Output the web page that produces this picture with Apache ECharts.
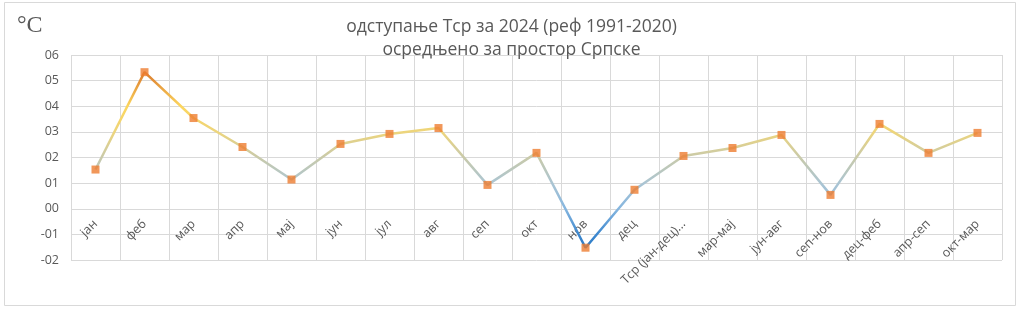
<!DOCTYPE html>
<html><head><meta charset="utf-8">
<script src="https://cdn.jsdelivr.net/npm/echarts@6/dist/echarts.min.js"></script>
<style>html,body{margin:0;padding:0;background:#fff}#c{width:1023px;height:309px}</style>
</head><body><div id="c"></div>
<script>
const categories = ['јан','феб','мар','апр','мај','јун','јул','авг','сеп','окт','нов','дец','Тср (јан-дец)...','мар-мај','јун-авг','сеп-нов','дец-феб','апр-сеп','окт-мар'];
const values = [0.153,0.533,0.354,0.241,0.114,0.253,0.292,0.315,0.093,0.218,-0.152,0.074,0.206,0.237,0.288,0.054,0.331,0.218,0.296];
const yTickLabels = {'-0.2':'-02','-0.1':'-01','0':'00','0.1':'01','0.2':'02','0.3':'03','0.4':'04','0.5':'05','0.6':'06'};
const titleLines = ['одступање Тср за 2024 (реф 1991-2020)','осредњено за простор Српске'];
const unitLabel = '°C';

const chart = echarts.init(document.getElementById('c'));
const font = 'Open Sans';
chart.setOption({
  animation:false,
  backgroundColor:'#fff',
  title:{text:titleLines.join('\n'),left:'center',top:11,
    textStyle:{fontFamily:font,fontSize:17.5,fontWeight:'normal',color:'#595959',lineHeight:23}},
  graphic:[
    {type:'rect',shape:{x:4.5,y:2.5,width:1011,height:303},style:{fill:'none',stroke:'#d9d9d9',lineWidth:1},z:-1},
    {type:'text',left:17,top:14,style:{text:unitLabel,font:'24px "Liberation Serif"',fill:'#595959'}}
  ],
  grid:{left:71,right:21,top:55,bottom:49,containLabel:false,outerBoundsMode:'none'},
  visualMap:{type:'continuous',show:false,dimension:1,seriesIndex:0,min:-0.2,max:0.6,
    inRange:{color:['#1a6ebd','#3d88cf','#86b6df','#abc5d3','#c9caaa','#edd57c','#fcd65e','#e39038','#c0561a']}},
  xAxis:{type:'category',data:categories,boundaryGap:true,position:'bottom',offset:-51,
    axisLine:{show:false,onZero:false},axisTick:{show:false},
    splitLine:{show:true,lineStyle:{color:'#d9d9d9',width:1}},
    axisLabel:{rotate:45,margin:13,interval:0,fontFamily:font,fontSize:12.5,color:'#595959'}},
  yAxis:{type:'value',min:-0.2,max:0.6,interval:0.1,
    axisLine:{show:false},axisTick:{show:false},
    splitLine:{lineStyle:{color:'#d9d9d9',width:1}},
    axisLabel:{margin:12,fontFamily:font,fontSize:12.5,color:'#595959',
      formatter:v=>yTickLabels[String(Math.round(v*10)/10)]}},
  series:[
    {type:'line',data:values,showSymbol:false,symbol:'none',lineStyle:{width:2.5},z:2},
    {type:'scatter',data:values,symbol:'rect',symbolSize:8,itemStyle:{color:'#ed7d31'},z:3}
  ]
});
</script></body></html>
